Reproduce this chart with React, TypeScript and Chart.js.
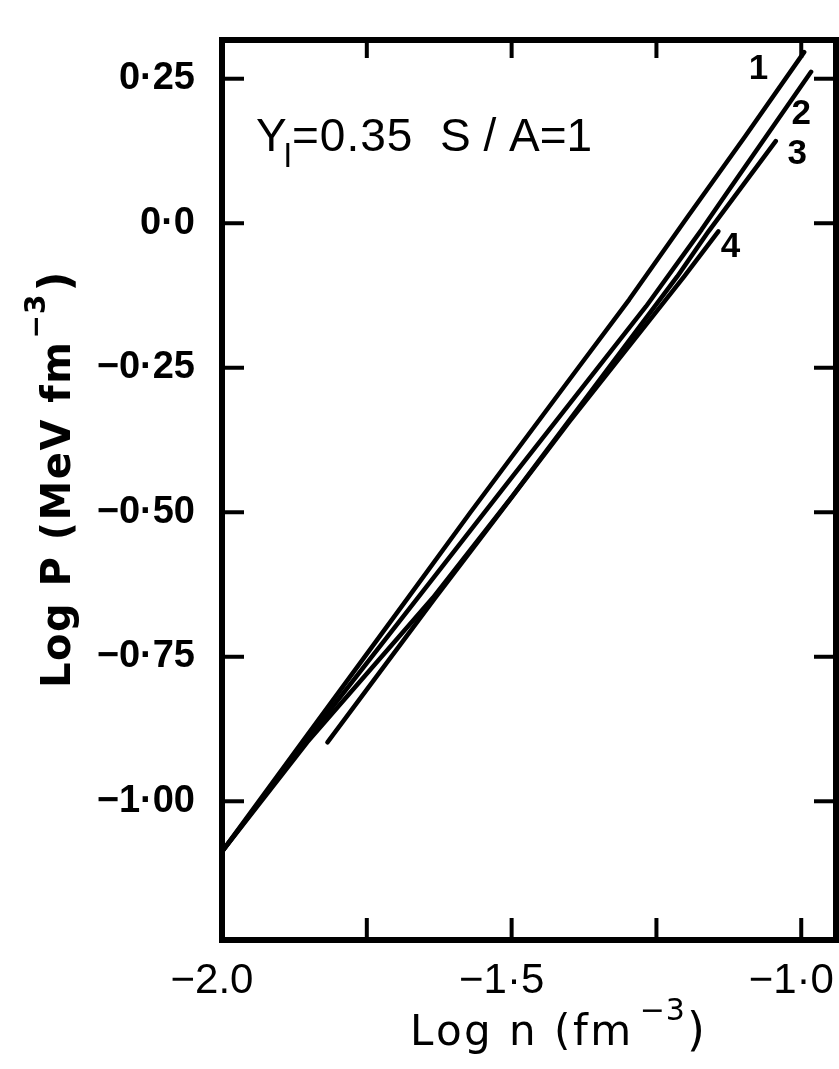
import React, { useEffect, useRef } from "react";
import { Chart, registerables } from "chart.js";

Chart.register(...registerables);

// ---- axis ticks ----
const xMajorTicks = [-2.0, -1.5, -1.0];
const xTickLabels = ["−2.0", "−1·5", "−1·0"];
const xMinorTicks = [-1.75, -1.25];
const yTicks = [-1.0, -0.75, -0.5, -0.25, 0.0, 0.25];
const yTickLabels = ["−1·00", "−0·75", "−0·50", "−0·25", "0·0", "0·25"];

// ---- curves: Log n (x) and Log P (y) ----
const n1 = [-2.0, -1.862, -1.679, -1.571, -1.385, -1.297, -1.197, -1.097, -0.995];
const p1 = [-1.087, -0.898, -0.648, -0.5, -0.25, -0.132, 0.01, 0.15, 0.296];

const n2 = [-2.0, -1.857, -1.662, -1.5, -1.268, -1.172, -1.13, -0.983];
const p2 = [-1.087, -0.898, -0.648, -0.44, -0.144, -0.011, 0.05, 0.262];

const n3 = [-2.0, -1.853, -1.636, -1.5, -1.214, -1.16, -1.044];
const p3 = [-1.087, -0.898, -0.648, -0.474, -0.092, -0.014, 0.142];

const n4 = [-1.818, -1.632, -1.4, -1.202, -1.143];
const p4 = [-0.898, -0.648, -0.343, -0.092, -0.014];

const curveNames = ["1", "2", "3", "4"];
const curveN = [n1, n2, n3, n4];
const curveP = [p1, p2, p3, p4];

// label anchors (data space)
const curveLabels = [
  { text: "1", n: -1.074, p: 0.267 },
  { text: "2", n: -1.0, p: 0.188 },
  { text: "3", n: -1.007, p: 0.119 },
  { text: "4", n: -1.122, p: -0.042 },
];

const X_MIN = -2.0;
const X_MAX = -0.94;
const Y_MIN = -1.24;
const Y_MAX = 0.317;

function drawSpaced(ctx: CanvasRenderingContext2D, text: string, x: number, y: number, sp: number) {
  let cx = x;
  for (const ch of text) {
    ctx.fillText(ch, cx, y);
    cx += ctx.measureText(ch).width + sp;
  }
  return cx;
}

const decorPlugin = {
  id: "decor",
  afterDatasetsDraw(chart: any) {
    const { ctx, chartArea: a, scales } = chart;
    const xs = scales.x;
    const ys = scales.y;
    ctx.save();
    ctx.strokeStyle = "#000";
    ctx.fillStyle = "#000";
    ctx.lineCap = "butt";

    // inner tick marks
    ctx.lineWidth = 4;
    const tl = 22;
    for (const v of yTicks) {
      const py = ys.getPixelForValue(v);
      ctx.beginPath();
      ctx.moveTo(a.left, py);
      ctx.lineTo(a.left + tl, py);
      ctx.stroke();
      ctx.beginPath();
      ctx.moveTo(a.right, py);
      ctx.lineTo(a.right - tl, py);
      ctx.stroke();
    }
    for (const v of [...xMinorTicks, ...xMajorTicks]) {
      if (v <= X_MIN) continue;
      const px = xs.getPixelForValue(v);
      ctx.beginPath();
      ctx.moveTo(px, a.bottom);
      ctx.lineTo(px, a.bottom - tl);
      ctx.stroke();
      ctx.beginPath();
      ctx.moveTo(px, a.top);
      ctx.lineTo(px, a.top + 18);
      ctx.stroke();
    }

    // frame
    ctx.lineWidth = 6;
    ctx.strokeRect(a.left, a.top, a.right - a.left, a.bottom - a.top);

    // curve labels
    ctx.font = "bold 35px 'Liberation Sans', 'DejaVu Sans', sans-serif";
    ctx.textAlign = "center";
    ctx.textBaseline = "middle";
    for (const l of curveLabels) {
      ctx.fillText(l.text, xs.getPixelForValue(l.n), ys.getPixelForValue(l.p));
    }

    // annotation  Y_l = 0.35   S/A = 1
    ctx.textAlign = "left";
    ctx.textBaseline = "alphabetic";
    ctx.font = "46px 'Liberation Sans', sans-serif";
    ctx.fillText("Y", a.left + 34, 151);
    ctx.font = "34px 'Liberation Sans', sans-serif";
    ctx.fillText("l", a.left + 62, 167);
    ctx.font = "46px 'Liberation Sans', sans-serif";
    drawSpaced(ctx, "=0.35", a.left + 70, 151, 1);
    drawSpaced(ctx, "S / A=1", a.left + 218, 151, 0);

    // x title
    ctx.font = "42px 'DejaVu Sans', sans-serif";
    let xe = drawSpaced(ctx, "Log n (fm", 410, 1045, 2.5);
    ctx.font = "30px 'DejaVu Sans', sans-serif";
    xe = drawSpaced(ctx, "−3", xe + 6, 1020, 1);
    ctx.font = "46px 'DejaVu Sans', sans-serif";
    ctx.fillText(")", xe + 1, 1045);

    // y title (rotated)
    ctx.translate(70, 688);
    ctx.rotate(-Math.PI / 2);
    ctx.font = "bold 40px 'DejaVu Sans', sans-serif";
    let ye = drawSpaced(ctx, "Log P (MeV fm", 0, 0, 1.5);
    ctx.font = "bold 28px 'DejaVu Sans', sans-serif";
    ye = drawSpaced(ctx, "−3", ye + 2, -25, 1);
    ctx.font = "bold 44px 'DejaVu Sans', sans-serif";
    ctx.fillText(")", ye + 2, 0);

    ctx.restore();
  },
};

export default function App() {
  const ref = useRef<HTMLCanvasElement>(null);

  useEffect(() => {
    const datasets = curveN.map((n, k) => ({
      label: curveNames[k],
      data: n.map((x, i) => ({ x, y: curveP[k][i] })),
      borderColor: "#000",
      backgroundColor: "#000",
      borderWidth: 4.5,
      pointRadius: 0,
      fill: false,
      tension: 0,
      borderCapStyle: "round" as const,
      borderJoinStyle: "round" as const,
    }));

    const chart = new Chart(ref.current as HTMLCanvasElement, {
      type: "line",
      data: { datasets },
      options: {
        animation: false,
        responsive: false,
        devicePixelRatio: 1,
        layout: { padding: { left: 0, top: 40, right: 3, bottom: 0 } },
        plugins: {
          legend: { display: false },
          tooltip: { enabled: false },
          title: { display: false },
        },
        scales: {
          x: {
            type: "linear",
            min: X_MIN,
            max: X_MAX,
            afterBuildTicks: (s: any) => {
              s.ticks = xMajorTicks.map((v) => ({ value: v }));
            },
            afterFit: (s: any) => {
              s.height = 129;
              s.paddingLeft = 0;
              s.paddingRight = 0;
            },
            grid: { display: false },
            border: { display: false },
            ticks: {
              autoSkip: false,
              maxRotation: 0,
              padding: 8,
              labelOffset: -10,
              color: "#000",
              font: { family: "'Liberation Sans', sans-serif", size: 42 },
              callback: (_v: any, i: number) => xTickLabels[i],
            },
          },
          y: {
            type: "linear",
            min: Y_MIN,
            max: Y_MAX,
            afterBuildTicks: (s: any) => {
              s.ticks = yTicks.map((v) => ({ value: v }));
            },
            afterFit: (s: any) => {
              s.width = 222;
              s.paddingTop = 0;
              s.paddingBottom = 0;
            },
            grid: { display: false },
            border: { display: false },
            ticks: {
              autoSkip: false,
              padding: 19,
              color: "#000",
              font: { family: "'Liberation Sans', sans-serif", size: 38, weight: "bold" },
              callback: (_v: any, i: number) => yTickLabels[i],
            },
          },
        },
      },
      plugins: [decorPlugin],
    });
    return () => chart.destroy();
  }, []);

  return (
    <div style={{ position: "absolute", left: 0, top: 0, width: 839, height: 1069, background: "#fff" }}>
      <canvas ref={ref} width={839} height={1069} style={{ display: "block" }} />
    </div>
  );
}
